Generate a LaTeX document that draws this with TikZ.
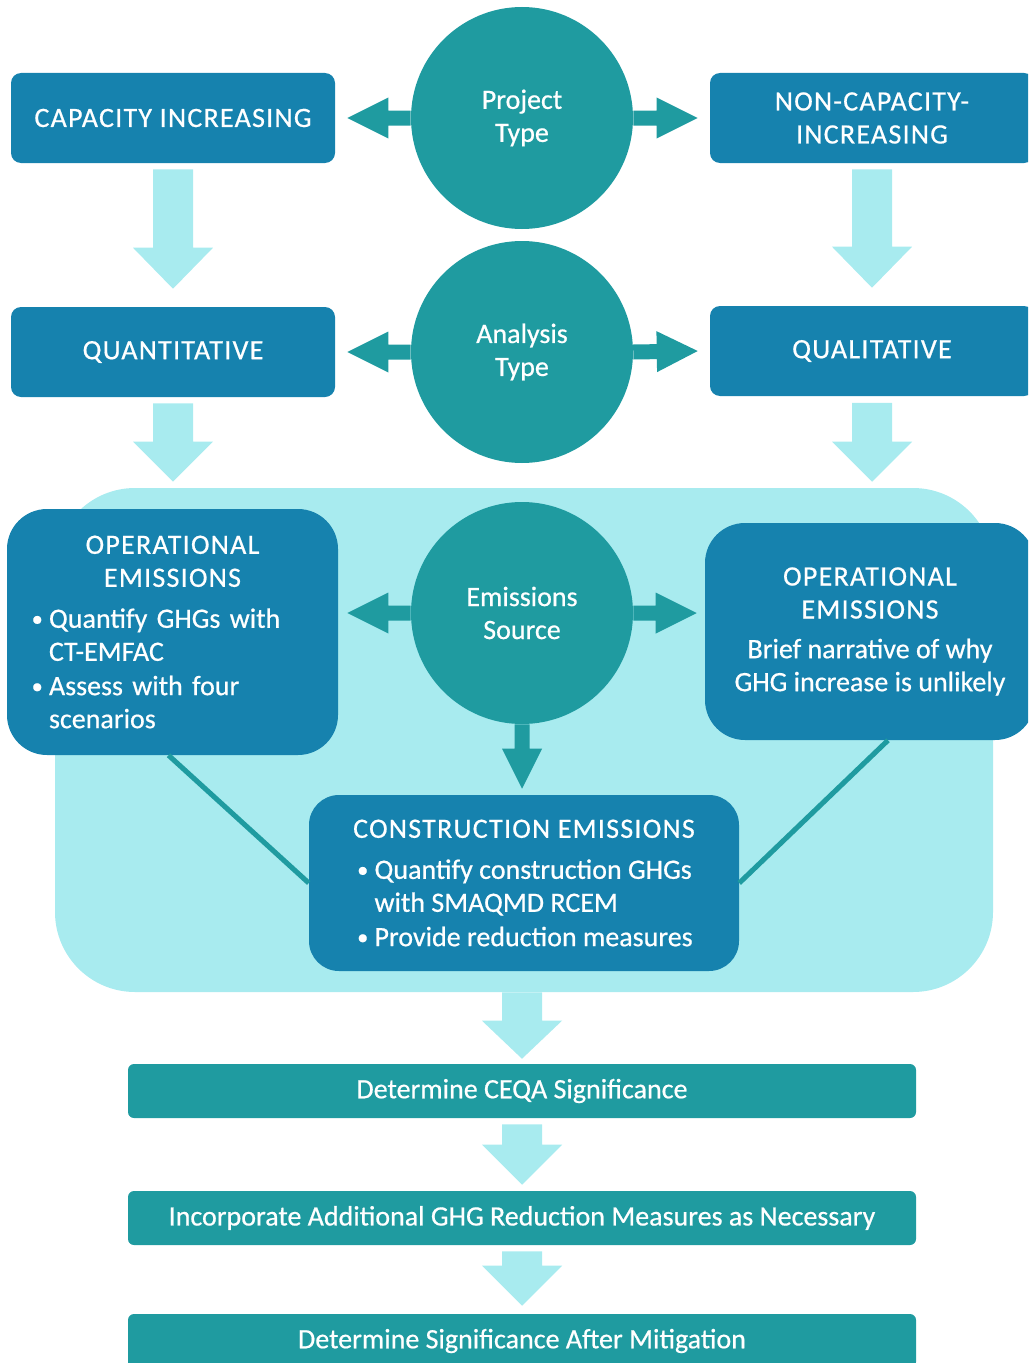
\documentclass[tikz,border=0pt]{standalone}
\usepackage{fontspec}
\setmainfont{Carlito}[FakeBold=0.6]
\usetikzlibrary{calc}
\setlength{\parindent}{0pt}
\definecolor{dblue}{RGB}{22,130,174}
\definecolor{tealc}{RGB}{31,155,160}
\definecolor{lcyan}{RGB}{168,235,239}
\newcommand{\blockarrow}[6]{%
 \coordinate (hb) at ($(#2)!{#5*0.75pt}!(#1)$);
 \fill[#6] ($(#1)!{#3*0.75pt}!90:(#2)$) -- ($(hb)!{#3*0.75pt}!90:(#2)$) -- ($(hb)!{#4*0.75pt}!90:(#2)$) -- (#2) -- ($(hb)!{#4*0.75pt}!-90:(#2)$) -- ($(hb)!{#3*0.75pt}!-90:(#2)$) -- ($(#1)!{#3*0.75pt}!-90:(#2)$) -- cycle;}
\newcommand{\bl}{\makebox[12pt][l]{\hspace*{-1pt}\raisebox{1.2pt}{\scalebox{0.8}{•}}}}
\newcommand{\ind}{\hspace*{12pt}}
\newcommand{\blc}{\makebox[16pt][l]{\hspace*{3pt}\raisebox{1.2pt}{\scalebox{0.8}{•}}}}
\newcommand{\indc}{\hspace*{16pt}}
\newcommand{\ls}{\addfontfeature{LetterSpace=4.5}}
\begin{document}
\begin{tikzpicture}[x=0.75pt,y=-0.75pt,
  txt/.style={text=white,font=\fontsize{21}{24.75}\selectfont},
  bbox/.style={txt,fill=dblue,rounded corners=7.5pt,minimum width=243pt,minimum height=67.5pt,align=center,inner sep=0pt},
  opbox/.style={txt,fill=dblue,rounded corners=30pt,inner sep=0pt},
  circ/.style={txt,circle,fill=tealc,minimum size=166.5pt,inner sep=0pt,align=center},
  bar/.style={txt,fill=tealc,rounded corners=4.5pt,minimum width=591pt,minimum height=40.5pt,inner sep=0pt},
  link/.style={draw=tealc,line width=3.8pt}]
\useasboundingbox (0,0) rectangle (1028,1363);
\clip (0,0) rectangle (1028,1363);
% background panel
\node[fill=lcyan,rounded corners=60pt,minimum width=703.5pt,minimum height=378pt,inner sep=0pt] (bg) at (524,740) {};
% boxes and circles
\node[bbox] (cap) at (173,118) {\ls CAPACITY INCREASING};
\node[bbox] (ncap) at (872,118) {\ls NON-CAPACITY-\\\ls INCREASING};
\node[circ] (pt) at (522,118) {Project\\Type};
\node[bbox] (quant) at (173,352) {\ls QUANTITATIVE};
\node[bbox] (qual) at (872,351) {\ls QUALITATIVE};
\node[circ] (at) at (522,352) {Analysis\\Type};
\node[opbox,minimum width=248.25pt,minimum height=184.5pt,text width=209.25pt] (opl) at (172.5,632)
  {{\centering\ls OPERATIONAL\\EMISSIONS\par}\vspace{6pt}{\raggedright\bl Quantify GHGs with\\\ind CT-EMFAC\\[1pt]\bl Assess with four\\\ind scenarios\par}};
\node[opbox,minimum width=247.5pt,minimum height=162.75pt,align=center] (opr) at (870,631.5)
  {\ls OPERATIONAL\\\ls EMISSIONS\\[5pt]Brief narrative of why\\GHG increase is unlikely};
\node[opbox,rounded corners=22.5pt,minimum width=322.5pt,minimum height=132pt,align=left] (con) at (524,883)
  {\ls CONSTRUCTION EMISSIONS\\[6pt]\blc Quantify construction GHGs\\\indc with SMAQMD RCEM\\[1pt]\blc Provide reduction measures};
\node[circ] (es) at (522,613) {Emissions\\Source};
\node[bar] (b1) at (522,1091) {Determine CEQA Significance};
\node[bar] (b2) at (522,1218) {Incorporate Additional GHG Reduction Measures as Necessary};
\node[bar] (b3) at (522,1341) {Determine Significance After Mitigation};
% links
\coordinate (rl) at ([xshift=13.5pt]opr.south);
\draw[link] ([xshift=-3pt]opl.south) -- (con.west);
\draw[link] (rl) -- (con.east);
% teal side arrows
\coordinate (t1) at ([xshift=9pt]cap.east);
\coordinate (t2) at ([xshift=-9pt]ncap.west);
\coordinate (t3) at ([xshift=9pt]quant.east);
\coordinate (t4) at ([xshift=-9pt]qual.west);
\coordinate (t5) at ([xshift=6.75pt]opl.east |- es.west);
\coordinate (t6) at ([xshift=-6pt]opr.west |- es.east);
\blockarrow{pt.west}{t1}{7.5}{20.5}{41}{tealc}
\blockarrow{pt.east}{t2}{7.5}{20.5}{41}{tealc}
\blockarrow{at.west}{t3}{7.5}{20.5}{41}{tealc}
\blockarrow{at.east}{t4}{7.5}{20.5}{41}{tealc}
\blockarrow{es.west}{t5}{7.5}{20.5}{41}{tealc}
\blockarrow{es.east}{t6}{7.5}{20.5}{41}{tealc}
\coordinate (t7) at ([yshift=4.5pt]con.north -| es.south);
\blockarrow{es.south}{t7}{7.5}{20}{40}{tealc}
% light down arrows
\coordinate (s1) at ([yshift=-4.5pt]cap.south);
\coordinate (e1) at ([yshift=13.5pt]quant.north);
\coordinate (s2) at ([yshift=-4.5pt]ncap.south);
\coordinate (e2) at ([yshift=13.5pt]qual.north -| ncap.south);
\blockarrow{s1}{e1}{20}{40}{41}{lcyan}
\blockarrow{s2}{e2}{20}{40}{41}{lcyan}
\coordinate (s3) at ([yshift=-4.5pt]quant.south);
\coordinate (e3) at (bg.north -| quant.south);
\coordinate (e3b) at ([yshift=4.5pt]e3);
\coordinate (s4) at ([yshift=-5pt]qual.south);
\coordinate (e4) at (bg.north -| qual.south);
\coordinate (e4b) at ([yshift=4.5pt]e4);
\blockarrow{s3}{e3b}{20}{40}{40}{lcyan}
\blockarrow{s4}{e4b}{20}{40}{40}{lcyan}
\coordinate (s5) at (bg.south -| b1.north);
\coordinate (e5) at ([yshift=3.75pt]b1.north);
\blockarrow{s5}{e5}{20}{40}{38}{lcyan}
\coordinate (s6) at ([yshift=-4.5pt]b1.south);
\coordinate (e6) at ([yshift=4.5pt]b2.north);
\blockarrow{s6}{e6}{20}{40}{40}{lcyan}
\coordinate (s7) at ([yshift=-4.5pt]b2.south);
\coordinate (e7) at ([yshift=6pt]b3.north);
\blockarrow{s7}{e7}{20}{40}{40}{lcyan}
\end{tikzpicture}
\end{document}
